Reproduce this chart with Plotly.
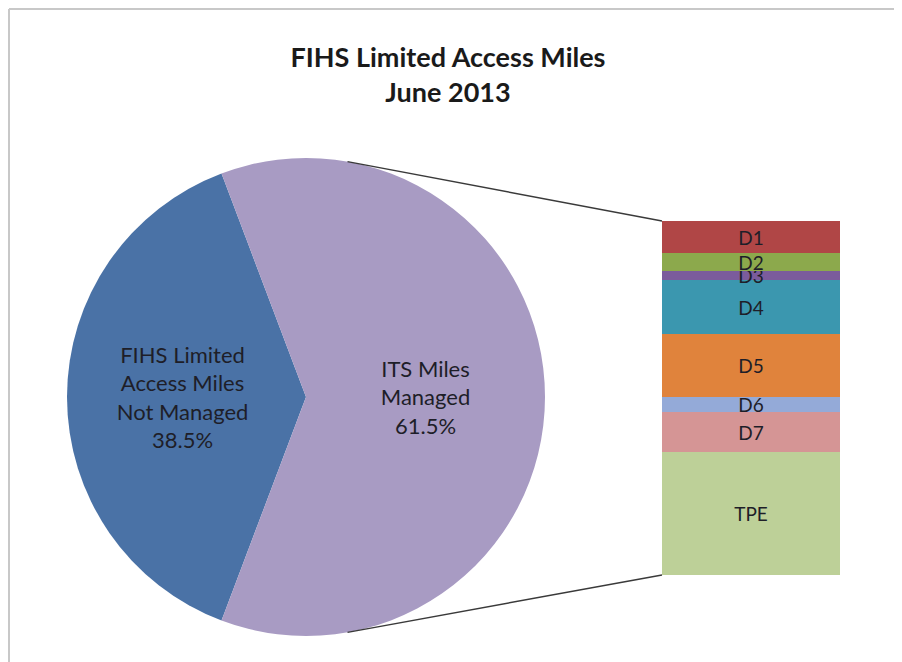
import numpy as np
import plotly.graph_objects as go

# pie: share of FIHS limited access miles (%)
pie_labels = ["FIHS Limited<br>Access Miles<br>Not Managed", "ITS Miles<br>Managed"]
pie_values = [38.5, 61.5]
pie_colors = ["#4A72A6", "#A89BC3"]

# bar: breakdown of the managed share by district (%)
bar_labels = ["D1", "D2", "D3", "D4", "D5", "D6", "D7", "TPE"]
bar_values = [5.5, 3.2, 1.6, 9.4, 10.8, 2.7, 7.0, 21.3]
bar_colors = ["#B04646", "#8CA94C", "#7B5C9C", "#3B97AF", "#E0833C", "#94AAD8", "#D59595", "#BDD098"]

# page has an 8px body margin, so the figure is shrunk to fit the window
OFF = 8
W, H = 902 - OFF, 662 - OFF
FONT = "Lato"
TXT = "#1E1E28"

# layout in window pixels
pie_left, pie_right, pie_top, pie_bottom = 67, 545, 158, 636
bar_left, bar_right, bar_top, bar_bottom = 662, 840, 221, 575


def px_x(x):
  return (x - OFF) / W


def px_y(y):
  return 1 - (y - OFF) / H


fig = go.Figure()

fig.add_trace(go.Pie(
  labels=pie_labels,
  values=pie_values,
  sort=False,
  direction="clockwise",
  rotation=270 - 360 * pie_values[0] / sum(pie_values) / 2,
  marker=dict(colors=pie_colors, line=dict(width=0)),
  texttemplate="%{label}<br>%{percent:.1%}",
  textposition="inside",
  insidetextorientation="horizontal",
  textfont=dict(family=FONT, size=22, color=TXT),
  domain=dict(x=[px_x(pie_left), px_x(pie_right)], y=[px_y(pie_bottom), px_y(pie_top)]),
  showlegend=False,
  hoverinfo="label+percent",
))

# stacked bar, bottom segment first
for lab, val, col in reversed(list(zip(bar_labels, bar_values, bar_colors))):
  fig.add_trace(go.Bar(
    x=[0], y=[val], name=lab,
    marker=dict(color=col, line=dict(width=0)),
    text=[lab], textposition="inside", insidetextanchor="middle", textangle=0,
    textfont=dict(family=FONT, size=19, color=TXT),
    showlegend=False,
    hovertemplate=lab + ": %{y}%<extra></extra>",
  ))

# connector lines from the managed slice to the bar
cx = (pie_left + pie_right) / 2
cy = (pie_top + pie_bottom) / 2
r = (pie_right - pie_left) / 2
ang = np.radians(10)
fig.add_shape(type="line", xref="paper", yref="paper",
              x0=px_x(cx + r * np.sin(ang)), y0=px_y(cy - r * np.cos(ang)),
              x1=px_x(bar_left), y1=px_y(bar_top),
              line=dict(color="#3a3a3a", width=1.5))
fig.add_shape(type="line", xref="paper", yref="paper",
              x0=px_x(cx + r * np.sin(ang)), y0=px_y(cy + r * np.cos(ang)),
              x1=px_x(bar_left), y1=px_y(bar_bottom),
              line=dict(color="#3a3a3a", width=1.5))

# chart area border (top and left visible)
fig.add_shape(type="line", xref="paper", yref="paper", x0=px_x(9), y0=px_y(9), x1=1, y1=px_y(9),
              line=dict(color="#c8c8c8", width=2))
fig.add_shape(type="line", xref="paper", yref="paper", x0=px_x(9), y0=px_y(9), x1=px_x(9), y1=0,
              line=dict(color="#c8c8c8", width=2))

fig.update_layout(
  title=dict(text="<b>FIHS Limited Access Miles<br>June 2013</b>",
             x=px_x(448), xanchor="center", y=px_y(67), yanchor="middle",
             font=dict(family=FONT, size=27, color="#1a1a1a")),
  barmode="stack", bargap=0,
  uniformtext=dict(minsize=19, mode="show"),
  xaxis=dict(domain=[px_x(bar_left), px_x(bar_right)], range=[-0.5, 0.5], visible=False, fixedrange=True),
  yaxis=dict(domain=[px_y(bar_bottom), px_y(bar_top)], range=[0, sum(bar_values)], visible=False, fixedrange=True),
  width=W, height=H,
  margin=dict(l=0, r=0, t=0, b=0),
  paper_bgcolor="white", plot_bgcolor="white",
)

fig.write_html("out.html")
